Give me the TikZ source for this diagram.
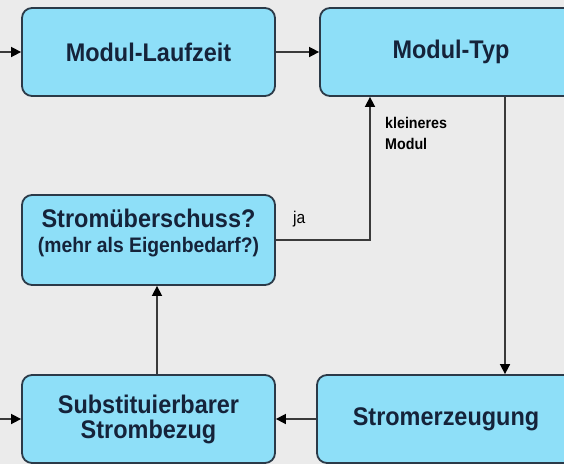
\documentclass[tikz,border=0pt]{standalone}
\usepackage{fontspec}
\setmainfont[FakeStretch=0.92]{Liberation Sans}
\usetikzlibrary{arrows.meta}
\definecolor{paper}{HTML}{EBEBEB}
\definecolor{boxfill}{HTML}{8EDFF8}
\definecolor{boxline}{HTML}{2B3A48}
\definecolor{ink}{HTML}{15233A}
\definecolor{wire}{HTML}{3A3A3A}
\tikzset{
	box/.style={draw=boxline,line width=1.8pt,fill=boxfill,rounded corners=10pt,
		minimum width=253pt,minimum height=88pt,align=center,text=ink,
		font=\bfseries\fontsize{25.5}{28}\selectfont},
	flow/.style={draw=wire,line width=1.6pt,-{Triangle[length=10pt,width=10pt,color=black]}},
	note/.style={text=black,align=left,inner sep=0pt}
}

\begin{document}
\begin{tikzpicture}[x=1pt,y=-1pt]
	\clip (0,0) rectangle (564,464);
	\fill[paper] (0,0) rectangle (564,464);
	% boxes
	\node[box] (laufzeit) at (148.5,52) {Modul-Laufzeit};
	\node[box,minimum width=262pt] (typ) at (451,52) {Modul-Typ};
	\node[box,minimum height=90pt] (ueberschuss) at (148.5,240)
		{Stromüberschuss?\\[-3pt]{\fontsize{21}{23}\selectfont(mehr als Eigenbedarf?)}\\[-10pt]\mbox{}};
	\node[box] (strombezug) at (148.5,419) {Substituierbarer\\[-3pt]Strombezug};
	\node[box,minimum width=258pt] (erzeugung) at (446,419) {Stromerzeugung};
	% free ends and turning points
	\coordinate (inTop) at (0,52);
	\coordinate (inBottom) at (0,419);
	\coordinate (down) at (505,0);
	\coordinate (up) at (370,0);
	\coordinate (rise) at (157,0);
	% connectors
	\draw[flow] (inTop) -- (laufzeit);
	\draw[flow] (laufzeit) -- (typ);
	\draw[flow] (typ.south -| down) -- (erzeugung.north -| down);
	\draw[flow] (erzeugung) -- (strombezug);
	\draw[flow] (inBottom) -- (strombezug);
	\draw[flow] (strombezug.north -| rise) -- (ueberschuss.south -| rise);
	\draw[flow] (ueberschuss.east) -- (ueberschuss.east -| up) -- (typ.south -| up);
	% labels
	\node[note,anchor=west,font=\fontsize{17}{19}\selectfont] (ja) at (293,219) {ja};
	\node[note,anchor=north west,font=\bfseries\fontsize{15.5}{21}\selectfont] (klein) at (385,117) {kleineres\\Modul};
\end{tikzpicture}
\end{document}
